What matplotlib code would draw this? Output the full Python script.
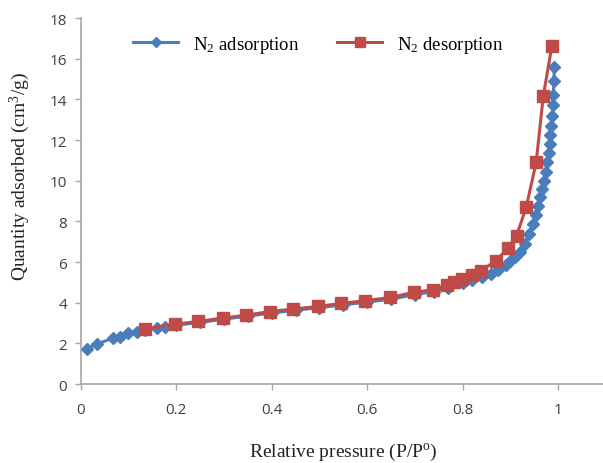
import matplotlib
matplotlib.use("Agg")
import matplotlib.pyplot as plt

# adsorption branch (blue diamonds)
ads_p = [0.012, 0.033, 0.068, 0.082, 0.099, 0.117, 0.135, 0.159, 0.176, 0.2,
         0.25, 0.3, 0.35, 0.4, 0.45, 0.5, 0.55, 0.6, 0.65, 0.7,
         0.74, 0.77, 0.8, 0.82, 0.84, 0.86, 0.875, 0.89, 0.90, 0.91,
         0.92, 0.93, 0.94, 0.947, 0.953, 0.958, 0.963, 0.967, 0.971, 0.974,
         0.977, 0.980, 0.982, 0.984, 0.986, 0.988, 0.989, 0.990, 0.991, 0.992]
ads_q = [1.72, 1.97, 2.26, 2.33, 2.5, 2.57, 2.65, 2.75, 2.82, 2.9,
         3.03, 3.2, 3.34, 3.5, 3.63, 3.76, 3.9, 4.03, 4.18, 4.4,
         4.55, 4.75, 4.95, 5.1, 5.25, 5.4, 5.6, 5.85, 6.05, 6.25,
         6.5, 6.9, 7.4, 7.85, 8.3, 8.75, 9.2, 9.6, 10.0, 10.45,
         10.9, 11.35, 11.8, 12.25, 12.7, 13.2, 13.7, 14.2, 14.9, 15.6]

# desorption branch (red squares)
des_p = [0.135, 0.197, 0.246, 0.298, 0.347, 0.396, 0.445, 0.497, 0.546, 0.595,
         0.648, 0.697, 0.737, 0.767, 0.781, 0.798, 0.819, 0.838, 0.870, 0.894,
         0.913, 0.933, 0.954, 0.969, 0.987]
des_q = [2.7, 2.95, 3.08, 3.25, 3.39, 3.57, 3.69, 3.82, 3.97, 4.1,
         4.26, 4.51, 4.64, 4.88, 5.0, 5.16, 5.36, 5.57, 6.07, 6.67,
         7.3, 8.69, 10.9, 14.18, 16.64]

x_ticks = [0, 0.2, 0.4, 0.6, 0.8, 1]
x_labels = ["0", "0.2", "0.4", "0.6", "0.8", "1"]
y_ticks = list(range(0, 19, 2))

plt.rcParams["mathtext.default"] = "regular"

blue = "#4a7ebb"
red = "#be4b48"
grey = "#a6a6a6"

fig = plt.figure(figsize=(6.03, 4.64), dpi=100)
ax = fig.add_axes([0.134, 0.170, 0.866, 0.789])

ax.plot(ads_p, ads_q, color=blue, lw=2.2, marker="D", ms=6.5,
        mec=blue, mfc=blue, label="N$_2$ adsorption", zorder=2)
ax.plot(des_p, des_q, color=red, lw=2.2, marker="s", ms=8.5,
        mec=red, mfc=red, label="N$_2$ desorption", zorder=3)

ax.set_xlim(0, 1.094)
ax.set_ylim(0, 18)
ax.set_xticks(x_ticks)
ax.set_xticklabels(x_labels)
ax.set_yticks(y_ticks)

for s in ["top", "right"]:
    ax.spines[s].set_visible(False)
for s in ["left", "bottom"]:
    ax.spines[s].set_color(grey)
    ax.spines[s].set_linewidth(1.2)

ax.tick_params(direction="out", length=4, width=1, color=grey,
               labelsize=11, labelcolor="#404040", pad=6)
for lab in ax.get_xticklabels() + ax.get_yticklabels():
    lab.set_family("Open Sans")
ax.tick_params(axis="x", pad=9)

ax.set_xlabel("Relative pressure (P/P$^o$)", family="Liberation Serif",
              fontsize=14, color="#222222")
ax.set_ylabel("Quantity adsorbed (cm$^3$/g)", family="Liberation Serif",
              fontsize=14, color="#222222")
ax.xaxis.set_label_coords(0.502, -0.155)
ax.yaxis.set_label_coords(-0.094, 0.571)

leg = ax.legend(loc="center", bbox_to_anchor=(0.455, 0.929), ncol=2,
                frameon=False, prop={"family": "Liberation Serif", "size": 13.5},
                handlelength=2.4, columnspacing=2.0, handletextpad=0.8,
                markerscale=0.8)

fig.savefig("out.png", dpi=100)
